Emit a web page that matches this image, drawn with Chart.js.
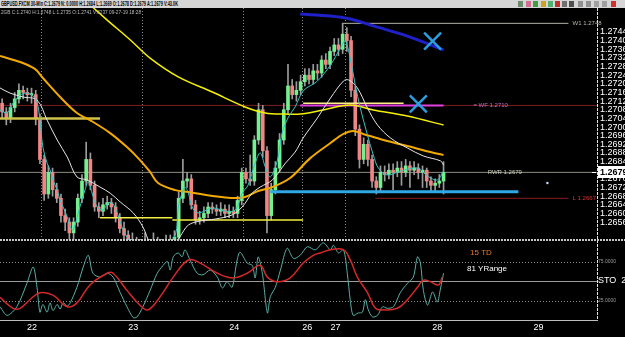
<!DOCTYPE html>
<html>
<head>
<meta charset="utf-8">
<title>GBPUSD.FXCM 30-Min</title>
<script src="https://cdn.jsdelivr.net/npm/chart.js@4.4.1/dist/chart.umd.min.js"></script>
<style>
  html, body { margin: 0; padding: 0; background: #000; }
  #wrap { position: relative; width: 625px; height: 337px; overflow: hidden; background: #000; }
  #topbar { position: absolute; left: 0; top: 0; width: 625px; height: 8px; background: #d6d6d6; z-index: 3; }
  #title { position: absolute; left: 1px; top: 0; font: bold 8px 'Liberation Sans Narrow', 'Liberation Sans', sans-serif; line-height: 8px; color: #000; white-space: nowrap; transform-origin: 0 0; }
  #sub { position: absolute; left: 1px; top: 9px; font: 6px 'Liberation Sans Narrow', 'Liberation Sans', sans-serif; line-height: 6px; color: #bdbdbd; white-space: nowrap; transform-origin: 0 0; z-index: 3; }
  .ico { position: absolute; top: 1px; width: 5px; height: 6px; }
  canvas { position: absolute; left: 0; }
  #mainChart { top: 8px; }
  #stoChart { top: 240px; }
</style>
</head>
<body>
<div id="wrap">
  <div id="topbar">
    <span id="title">GBPUSD.FXCM 30-Min  C:1.2679  N: 0.0000  H:1.2684  L:1.2669  O:1.2678  D:1.2679  A:1.2679  V:43.0K</span>
    <div class="ico" style="left:518px;background:#6a8a6a"></div>
    <div class="ico" style="left:526px;background:#d07090"></div>
    <div class="ico" style="left:533px;background:#40a040"></div>
    <div class="ico" style="left:541px;background:#d0a020"></div>
    <div class="ico" style="left:548px;background:#50b070"></div>
    <div class="ico" style="left:555px;background:#c03030"></div>
    <div class="ico" style="left:562px;background:#707070"></div>
    <div class="ico" style="left:569px;background:#505050"></div>
    <div class="ico" style="left:578px;background:#909090"></div>
    <div class="ico" style="left:586px;background:#909090"></div>
    <div class="ico" style="left:594px;background:#a0a0a0"></div>
    <div class="ico" style="left:602px;background:#a0a0a0"></div>
    <div class="ico" style="left:611px;background:#d03030"></div>
  </div>
  <div id="sub">2GB C:1.2740 H:1.2748 L:1.2735 O:1.2741 V:8237 09-27-19 18:28</div>
  <canvas id="mainChart" width="625" height="232"></canvas>
  <canvas id="stoChart" width="625" height="97"></canvas>
</div>
<script>
// x axis counts 1-hour slots from the left edge of the plot
const firstOpen = 1.2711;
const closes = [
  1.2707, 1.2704, 1.2709, 1.2713, 1.2717, 1.2716, 1.2715, 1.2715, 1.2704, 1.2685,
  1.2669, 1.2679, 1.2671, 1.2667, 1.2659, 1.2656, 1.2651, 1.2656, 1.2667, 1.2675,
  1.2685, 1.2673, 1.2663, 1.2661, 1.2664, 1.2665, 1.2663, 1.2658, 1.2653, 1.2650,
  1.2648, 1.2646, 1.2644, 1.2645, 1.2643, 1.2645, 1.2643, 1.2646, 1.2644, 1.2645,
  1.2647, 1.2649, 1.2667, 1.2675, 1.2676, 1.2664, 1.2657, 1.2658, 1.2660, 1.2663,
  1.2662, 1.2661, 1.2662, 1.2660, 1.2661, 1.2660, 1.2666, 1.2679, 1.2676, 1.2675,
  1.2694, 1.2708, 1.2689, 1.2659, 1.2671, 1.2681, 1.2694, 1.2708, 1.2719, 1.2715,
  1.2717, 1.2721, 1.2724, 1.2722, 1.2726, 1.2725, 1.2731, 1.2729, 1.2735, 1.2738,
  1.2736, 1.2743, 1.2740, 1.2717, 1.2699, 1.2685, 1.2692, 1.2685, 1.2675, 1.2672,
  1.2679, 1.2678, 1.2680, 1.2679, 1.2681, 1.2679, 1.2682, 1.2680, 1.2681, 1.2679,
  1.2680, 1.2675, 1.2673, 1.2674, 1.2675, 1.2679
];
const highs = [
  1.2713, 1.2709, 1.2711, 1.2716, 1.2720, 1.2719, 1.2718, 1.2718, 1.2717, 1.2706,
  1.2687, 1.2682, 1.2681, 1.2674, 1.2669, 1.2662, 1.2658, 1.2658, 1.2669, 1.2678,
  1.2693, 1.2688, 1.2675, 1.2665, 1.2667, 1.2668, 1.2667, 1.2665, 1.2660, 1.2656,
  1.2652, 1.2651, 1.2649, 1.2648, 1.2651, 1.2648, 1.2651, 1.2649, 1.2648, 1.2650,
  1.2650, 1.2652, 1.2670, 1.2685, 1.2679, 1.2678, 1.2666, 1.2661, 1.2663, 1.2665,
  1.2665, 1.2664, 1.2665, 1.2664, 1.2664, 1.2663, 1.2668, 1.2681, 1.2681, 1.2687,
  1.2696, 1.2711, 1.2710, 1.2691, 1.2674, 1.2684, 1.2697, 1.2711, 1.2729, 1.2722,
  1.2721, 1.2724, 1.2727, 1.2727, 1.2729, 1.2729, 1.2733, 1.2734, 1.2737, 1.2741,
  1.2741, 1.2748, 1.2746, 1.2742, 1.2719, 1.2701, 1.2695, 1.2694, 1.2687, 1.2677,
  1.2682, 1.2682, 1.2683, 1.2683, 1.2684, 1.2684, 1.2685, 1.2684, 1.2684, 1.2683,
  1.2682, 1.2681, 1.2677, 1.2676, 1.2678, 1.2684
];
const lows = [
  1.2704, 1.2701, 1.2702, 1.2707, 1.2711, 1.2713, 1.2712, 1.2711, 1.2701, 1.2683,
  1.2666, 1.2667, 1.2668, 1.2665, 1.2656, 1.2652, 1.2648, 1.2648, 1.2654, 1.2665,
  1.2673, 1.2671, 1.2661, 1.2658, 1.2659, 1.2662, 1.2660, 1.2656, 1.2651, 1.2648,
  1.2645, 1.2644, 1.2642, 1.2642, 1.2641, 1.2641, 1.2641, 1.2641, 1.2642, 1.2642,
  1.2643, 1.2645, 1.2647, 1.2665, 1.2672, 1.2662, 1.2655, 1.2655, 1.2656, 1.2658,
  1.2660, 1.2659, 1.2659, 1.2658, 1.2658, 1.2658, 1.2658, 1.2664, 1.2674, 1.2673,
  1.2673, 1.2692, 1.2686, 1.2651, 1.2657, 1.2669, 1.2679, 1.2692, 1.2706, 1.2713,
  1.2712, 1.2715, 1.2719, 1.2720, 1.2720, 1.2722, 1.2723, 1.2727, 1.2727, 1.2733,
  1.2733, 1.2734, 1.2735, 1.2714, 1.2696, 1.2681, 1.2683, 1.2682, 1.2672, 1.2669,
  1.2670, 1.2675, 1.2676, 1.2671, 1.2677, 1.2673, 1.2677, 1.2672, 1.2678, 1.2676,
  1.2672, 1.2672, 1.2670, 1.2670, 1.2672, 1.2669
];

// moving averages, read as vertices off the picture
const yellowX = [19.0, 25.5, 31.0, 35.7, 42.4, 50.5, 58.3, 63.1, 67.9, 71.4, 76.9, 83.3, 88.8, 96.9, 105.5];
const yellowY = [1.27607, 1.27495, 1.27403, 1.27319, 1.27232, 1.27162, 1.27093, 1.27065, 1.27060, 1.27060, 1.27079, 1.27102, 1.27079, 1.27051, 1.27009];
const orangeX = [0, 4.8, 8.3, 10.2, 14.3, 18.3, 21.4, 26.2, 30.2, 33.3, 35.7, 37.6, 41.7, 44.8, 50.5, 56.0, 58.3, 61.4, 64.8, 69.0, 73.8, 78.6, 81.7, 84.0, 86.4, 91.2, 96.9, 102.4, 105.5];
const orangeY = [1.27329, 1.27301, 1.27269, 1.27227, 1.27139, 1.27065, 1.27032, 1.26972, 1.26907, 1.26847, 1.26792, 1.26741, 1.26708, 1.26699, 1.26681, 1.26671, 1.26676, 1.26704, 1.26722, 1.26764, 1.26856, 1.26926, 1.26968, 1.26982, 1.26968, 1.26940, 1.26912, 1.26884, 1.26870];
const whiteX = [0, 2.4, 5.5, 8.8, 11.2, 13.6, 16.0, 18.3, 20.7, 23.8, 26.2, 28.6, 31.7, 34.0, 35.7, 38.1, 41.0, 42.9, 44.8, 47.6, 51.2, 55.2, 57.6, 60.0, 61.9, 64.8, 67.9, 70.2, 72.1, 75.5, 78.6, 81.7, 82.9, 85.0, 87.4, 89.8, 92.9, 96.9, 100.7, 104.8, 105.5];
const whiteY = [1.27181, 1.27157, 1.27139, 1.27125, 1.27032, 1.26940, 1.26861, 1.26769, 1.26755, 1.26722, 1.26694, 1.26653, 1.26602, 1.26537, 1.26463, 1.26421, 1.26440, 1.26495, 1.26546, 1.26565, 1.26574, 1.26593, 1.26630, 1.26694, 1.26722, 1.26755, 1.26833, 1.26884, 1.26949, 1.27042, 1.27134, 1.27213, 1.27218, 1.27181, 1.27088, 1.27009, 1.26949, 1.26903, 1.26866, 1.26843, 1.26824];
const cyanX = [0, 1.7, 3.1, 4.8, 6.4, 7.9, 8.8, 9.5, 10.2, 11.2, 11.9, 12.6, 13.6, 14.3, 15.0, 16.0, 16.7, 17.4, 19.0, 20.2, 21.0, 21.9, 23.1, 24.5, 25.7, 26.7, 27.9, 29.0, 30.2, 32.1, 35.7, 39.3, 41.7, 42.4, 43.3, 44.0, 44.8, 45.7, 47.1, 50.5, 53.6, 56.0, 57.6, 59.0, 60.7, 61.9, 63.1, 64.3, 66.0, 67.1, 68.6, 70.2, 72.1, 75.5, 78.6, 81.0, 82.1, 83.3, 84.5, 85.7, 87.4, 88.8, 90.0, 92.1, 95.2, 99.3, 101.7, 104.0, 105.5];
const cyanY = [1.27079, 1.27065, 1.27111, 1.27148, 1.27157, 1.27144, 1.27116, 1.27032, 1.26907, 1.26833, 1.26801, 1.26755, 1.26708, 1.26662, 1.26630, 1.26583, 1.26537, 1.26523, 1.26630, 1.26708, 1.26745, 1.26694, 1.26630, 1.26616, 1.26648, 1.26648, 1.26602, 1.26537, 1.26491, 1.26454, 1.26440, 1.26444, 1.26500, 1.26630, 1.26694, 1.26722, 1.26694, 1.26630, 1.26602, 1.26625, 1.26611, 1.26616, 1.26694, 1.26731, 1.26833, 1.26880, 1.26815, 1.26769, 1.26847, 1.26972, 1.27046, 1.27093, 1.27167, 1.27213, 1.27287, 1.27366, 1.27398, 1.27319, 1.27194, 1.27088, 1.26963, 1.26870, 1.26810, 1.26778, 1.26796, 1.26810, 1.26773, 1.26755, 1.26796];
const blueX = [71.4, 78.6, 83.3, 88.8, 96.9, 105.5];
const blueY = [1.27523, 1.27514, 1.27500, 1.27468, 1.27421, 1.27357];

// horizontal levels drawn on the price pane
const levelNames = ['oldRes', 'lastPrice', 'khaki', 'baseA', 'baseB', 'paleY', 'wf', 'support', 'low', 'w1'];
const levelPrices = [1.2710, 1.2679, 1.2704, 1.2658, 1.2657, 1.2711, 1.2710, 1.2670, 1.2667, 1.2748];
const levelFrom = [0, 0, 0, 23.8, 41.0, 72.1, 71.4, 64.3, 89.3, 81.4];
const levelTo = [142, 142, 23.8, 41.0, 72.1, 96.0, 105.5, 123.3, 135.2, 135.2];

const tagTexts = ['W1 1.2748', '= WF 1.2710', 'RWR 1.2679', 'L 1.2667'];
const tagHours = [136.2, 112.6, 116.0, 136.2];
const tagPrices = [1.2748, 1.2710, 1.2679, 1.2667];

const markX = [102.9, 99.5];
const markY = [1.27398, 1.27107];
const dotX = [130.2];
const dotY = [1.26741];

const priceTicks = [1.2744, 1.2740, 1.2736, 1.2732, 1.2728, 1.2724, 1.2720, 1.2716, 1.2712, 1.2708, 1.2704, 1.2700,
  1.2696, 1.2692, 1.2688, 1.2684, 1.2680, 1.2676, 1.2672, 1.2668, 1.2664, 1.2660, 1.2656];
const lastPrice = 1.2679;

const dayLines = [9.75, 33.8, 57.85, 71.9, 82.1];
const dayTicks = [7.6, 31.7, 55.7, 73.1, 79.8, 104.0, 128.1];
const dayNames = ['22', '23', '24', '26', '27', '28', '29'];

// stochastic pane
const kX = [0, 1.7, 4.0, 6.4, 7.9, 8.8, 9.5, 10.2, 11.2, 11.9, 12.6, 13.6, 14.3, 15.0, 16.0, 16.7, 18.3, 19.8, 21.0, 22.1,
  23.8, 25.5, 26.9, 28.6, 30.2, 31.7, 32.6, 34.0, 35.7, 37.4, 38.8, 39.8, 40.5, 41.2, 42.4, 43.3, 44.0, 45.2, 46.9, 48.3,
  50.0, 51.7, 52.9, 54.0, 55.2, 56.4, 57.1, 58.8, 60.0, 60.7, 61.4, 62.4, 63.6, 64.3, 65.5, 66.7, 68.3, 69.8, 71.4, 73.1,
  75.0, 76.9, 78.6, 79.3, 80.5, 81.7, 82.6, 83.3, 84.0, 85.2, 86.2, 86.9, 87.6, 88.6, 89.8, 91.0, 92.1, 93.6, 95.2, 96.9,
  98.3, 99.3, 100.0, 100.7, 101.7, 102.9, 104.0, 104.8, 105.5];
const kY = [17, 6, 17, 47, 68, 42, 10, 20, 10, 22, 12, 20, 14, 22, 18, 22, 42, 68, 83, 60,
  55, 60, 55, 35, 17, 3, 4, 17, 38, 60, 70, 75, 64, 81, 86, 81, 90, 77, 60, 58,
  64, 55, 41, 49, 42, 77, 87, 73, 70, 54, 81, 60, 9, 30, 42, 64, 92, 79, 83, 94,
  90, 99, 90, 96, 86, 90, 60, 26, 6, 9, 10, 26, 13, 4, 6, 17, 15, 17, 35, 47,
  55, 81, 73, 38, 19, 36, 23, 41, 60];
const dX = [0, 3.1, 4.8, 7.1, 9.5, 12.6, 16.0, 18.3, 21.4, 25.5, 26.9, 30.2, 33.3, 35.2, 38.1, 41.2, 44.8, 47.6, 51.7, 55.5,
  58.8, 61.9, 63.6, 66.0, 69.0, 72.1, 74.5, 76.2, 78.6, 81.7, 83.3, 85.0, 87.4, 89.3, 91.2, 94.5, 96.9, 99.3, 100.7, 102.4,
  104.3, 105.2];
const dY = [29, 15, 15, 26, 35, 32, 17, 22, 45, 60, 60, 38, 19, 13, 30, 55, 77, 73, 60, 54,
  60, 70, 55, 49, 54, 73, 83, 86, 90, 90, 77, 55, 35, 15, 13, 15, 26, 42, 51, 49,
  45, 55];
const stoLevels = [25, 50, 75];

const narrow = "'Liberation Sans Narrow', 'Liberation Sans', Arial, sans-serif";
const upColor = '#74f08e';
const downColor = '#f08585';
const hourMax = 142;

const opens = closes.map((c, i) => (i === 0 ? firstOpen : closes[i - 1]));
const toPoints = (xs, ys) => xs.map((x, i) => ({ x: x, y: ys[i] }));

const levelStyle = {
  oldRes: ['#7a1e1e', 1, 40],
  lastPrice: ['#8c8c80', 1, 40],
  khaki: ['#cfc24a', 2.5, 6],
  baseA: ['#f4f040', 1.5, 6],
  baseB: ['#f4f040', 1.5, 6],
  paleY: ['#fff08a', 1.5, 6],
  wf: ['#e040e0', 2, 7],
  support: ['#2fa8e4', 3, 6],
  low: ['#8e1c1c', 1, 40],
  w1: ['#b4b4a8', 1, 40]
};

function maLine(xs, ys, color, width, order) {
  return {
    type: 'line', data: toPoints(xs, ys), borderColor: color, borderWidth: width,
    pointRadius: 0, tension: 0.35, fill: false, order: order
  };
}

const levelSets = levelNames.map((name, i) => ({
  type: 'line',
  data: [{ x: levelFrom[i], y: levelPrices[i] }, { x: levelTo[i], y: levelPrices[i] }],
  borderColor: levelStyle[name][0], borderWidth: levelStyle[name][1], order: levelStyle[name][2],
  pointRadius: 0, tension: 0, fill: false
}));

const mainDecor = {
  id: 'mainDecor',
  beforeDatasetsDraw(chart) {
    const { ctx, chartArea: a, scales } = chart;
    ctx.save();
    ctx.strokeStyle = '#8a8a8a';
    ctx.lineWidth = 1;
    ctx.setLineDash([1, 2]);
    dayLines.forEach(h => {
      const px = Math.round(scales.x.getPixelForValue(h)) + 0.5;
      ctx.beginPath(); ctx.moveTo(px, a.top); ctx.lineTo(px, a.bottom); ctx.stroke();
    });
    ctx.restore();
  },
  afterDraw(chart) {
    const { ctx, chartArea: a, scales: { x, y } } = chart;
    ctx.save();
    ctx.font = '6px ' + narrow;
    ctx.textBaseline = 'middle';
    const tagColors = ['#b8b8b0', '#c070c0', '#d0d0c0', '#e03030'];
    tagTexts.forEach((t, i) => {
      ctx.fillStyle = tagColors[i];
      ctx.fillText(t, x.getPixelForValue(tagHours[i]), y.getPixelForValue(tagPrices[i]));
    });
    // axis line of the price scale
    ctx.strokeStyle = '#e6e6e6';
    ctx.lineWidth = 1;
    ctx.setLineDash([3, 1]);
    ctx.beginPath(); ctx.moveTo(a.right + 0.5, a.top); ctx.lineTo(a.right + 0.5, a.bottom); ctx.stroke();
    // pane separator
    ctx.strokeStyle = '#c8c8c8';
    ctx.setLineDash([2, 1]);
    ctx.beginPath(); ctx.moveTo(0, a.bottom - 0.5); ctx.lineTo(chart.width, a.bottom - 0.5); ctx.stroke();
    ctx.setLineDash([]);
    // current price tag
    const py = Math.round(y.getPixelForValue(lastPrice));
    ctx.fillStyle = '#ffffff';
    ctx.fillRect(a.right + 1, py - 6, 27, 12);
    ctx.fillStyle = '#000000';
    ctx.font = 'bold 9px ' + narrow;
    ctx.fillText(lastPrice.toFixed(4), a.right + 3, py + 0.5);
    ctx.strokeStyle = '#ffffff';
    ctx.beginPath(); ctx.moveTo(a.right - 5, py + 0.5); ctx.lineTo(a.right - 1, py + 0.5); ctx.stroke();
    ctx.restore();
  }
};

new Chart(document.getElementById('mainChart'), {
  type: 'bar',
  data: {
    datasets: [
      {
        type: 'line', data: toPoints(markX, markY), showLine: false,
        pointStyle: 'crossRot', pointRadius: 12, pointBorderWidth: 2.5,
        pointBorderColor: '#2b9ee0', borderColor: '#2b9ee0', order: 0
      },
      {
        type: 'line', data: toPoints(dotX, dotY), showLine: false,
        pointRadius: 1.2, pointBorderWidth: 0, pointBackgroundColor: '#c8e0ff', order: 0
      },
      maLine(cyanX, cyanY, '#36c4c4', 1, 1),
      maLine(whiteX, whiteY, '#e6e6e6', 1, 2),
      maLine(orangeX, orangeY, '#f2a900', 2, 3),
      maLine(yellowX, yellowY, '#f4f000', 1.5, 4),
      maLine(blueX, blueY, '#2020c8', 3, 4),
      ...levelSets,
      {
        label: 'bodies',
        data: closes.map((c, i) => ({ x: i + 0.5, y: [opens[i], c] })),
        backgroundColor: ctx => (ctx.raw && ctx.raw.y[1] < ctx.raw.y[0]) ? downColor : upColor,
        barThickness: 3, minBarLength: 1, grouped: false, order: 20
      },
      {
        label: 'wicks',
        data: closes.map((c, i) => ({ x: i + 0.5, y: [lows[i], highs[i]] })),
        backgroundColor: '#9c9c9c',
        barThickness: 1, grouped: false, order: 21
      }
    ]
  },
  options: {
    responsive: false,
    animation: false,
    events: [],
    layout: { padding: 0, autoPadding: false },
    plugins: { legend: { display: false }, tooltip: { enabled: false } },
    scales: {
      x: { type: 'linear', min: 0, max: hourMax, offset: false, display: false, grid: { offset: false } },
      y: {
        position: 'right', min: 1.26477, max: 1.27551,
        afterBuildTicks: s => { s.ticks = priceTicks.map(v => ({ value: v })); },
        afterFit: s => { s.width = 28; s.paddingTop = 0; s.paddingBottom = 0; },
        grid: { display: false, drawTicks: false },
        border: { display: false },
        ticks: {
          color: '#ffffff', padding: 3, autoSkip: false,
          font: { family: narrow, size: 9 },
          callback: v => Number(v).toFixed(4)
        }
      }
    }
  },
  plugins: [mainDecor]
});

const stoDecor = {
  id: 'stoDecor',
  beforeDatasetsDraw(chart) {
    const { ctx, chartArea: a, scales: { y } } = chart;
    ctx.save();
    ctx.lineWidth = 1;
    stoLevels.forEach(v => {
      const py = Math.round(y.getPixelForValue(v)) + 0.5;
      ctx.strokeStyle = v === 50 ? '#9a9a9a' : '#8a8a8a';
      ctx.setLineDash(v === 50 ? [] : [1, 2]);
      ctx.beginPath(); ctx.moveTo(a.left, py); ctx.lineTo(a.right, py); ctx.stroke();
    });
    ctx.restore();
  },
  afterDraw(chart) {
    const { ctx, chartArea: a } = chart;
    ctx.save();
    ctx.strokeStyle = '#e6e6e6';
    ctx.lineWidth = 1;
    ctx.setLineDash([3, 1]);
    ctx.beginPath(); ctx.moveTo(a.right + 0.5, 0); ctx.lineTo(a.right + 0.5, a.bottom); ctx.stroke();
    ctx.strokeStyle = '#c8c8c8';
    ctx.setLineDash([2, 1]);
    ctx.beginPath(); ctx.moveTo(0, 0.5); ctx.lineTo(chart.width, 0.5); ctx.stroke();
    ctx.setLineDash([]);
    ctx.font = '8px ' + "'Liberation Sans', Arial, sans-serif";
    ctx.textAlign = 'center';
    ctx.textBaseline = 'middle';
    ctx.fillStyle = '#e8782a';
    ctx.fillText('15 TD', 481, 13);
    ctx.fillStyle = '#ffffff';
    ctx.fillText('81 YRange', 487, 29);
    ctx.restore();
  }
};

new Chart(document.getElementById('stoChart'), {
  type: 'line',
  data: {
    datasets: [
      { data: toPoints(dX, dY), borderColor: '#d42a2a', borderWidth: 1.5, pointRadius: 0, tension: 0.4, order: 1 },
      { data: toPoints(kX, kY), borderColor: '#5aaea4', borderWidth: 1, pointRadius: 0, tension: 0.3, order: 2 }
    ]
  },
  options: {
    responsive: false,
    animation: false,
    events: [],
    layout: { padding: 0, autoPadding: false },
    plugins: { legend: { display: false }, tooltip: { enabled: false } },
    scales: {
      x: {
        type: 'linear', min: 0, max: hourMax,
        afterBuildTicks: s => { s.ticks = dayTicks.map(v => ({ value: v })); },
        afterFit: s => { s.height = 17; s.paddingLeft = 0; s.paddingRight = 0; },
        grid: { display: false, drawTicks: false },
        border: { color: '#bdbdbd' },
        ticks: {
          color: '#ffffff', padding: 2, autoSkip: false, maxRotation: 0,
          font: { family: "'Liberation Sans', Arial, sans-serif", size: 9 },
          callback: v => dayNames[dayTicks.indexOf(v)]
        }
      },
      y: {
        position: 'right', min: 0, max: 102.6,
        afterBuildTicks: s => { s.ticks = stoLevels.map(v => ({ value: v })); },
        afterFit: s => { s.width = 28; s.paddingTop = 0; s.paddingBottom = 0; },
        grid: { display: false, drawTicks: false },
        border: { display: false },
        ticks: {
          padding: 1, autoSkip: false,
          color: ctx => (ctx.tick && ctx.tick.value === 50) ? '#ffffff' : '#9a9a9a',
          font: ctx => ({ family: narrow, size: (ctx.tick && ctx.tick.value === 50) ? 9 : 5 }),
          callback: v => v === 50 ? 'STO  22' : Number(v).toFixed(4)
        }
      }
    }
  },
  plugins: [stoDecor]
});

function fitWidth(id, w) {
  const el = document.getElementById(id);
  el.style.display = 'inline-block';
  const cur = el.getBoundingClientRect().width;
  if (cur > 0) el.style.transform = 'scaleX(' + (w / cur) + ')';
}
fitWidth('title', 177);
fitWidth('sub', 140);
</script>
</body>
</html>
